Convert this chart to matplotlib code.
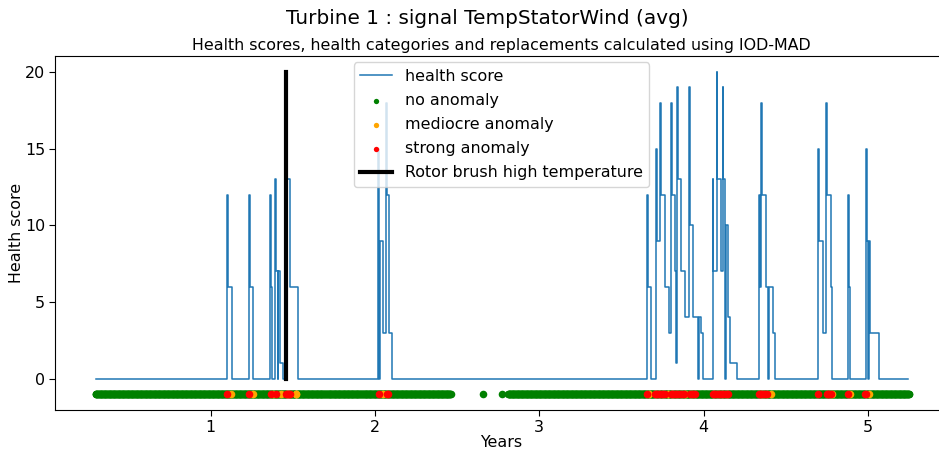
import numpy as np
import matplotlib
matplotlib.use("Agg")
import matplotlib.pyplot as plt

# Health score as a step series: (years, value held until the next change)
hs_years = [
    0.300, 1.101, 1.105, 1.128, 1.233, 1.239, 1.259, 1.363, 1.365, 1.371,
    1.391, 1.397, 1.407, 1.411, 1.421, 1.442, 1.466, 1.482, 1.533,
    2.017, 2.023, 2.027, 2.031, 2.046, 2.070, 2.074, 2.086, 2.106,
    3.655, 3.659, 3.679, 3.711, 3.717, 3.734, 3.740, 3.766, 3.792,
    3.802, 3.807, 3.823, 3.831, 3.837, 3.843, 3.861, 3.884, 3.908,
    3.914, 3.938, 3.965, 3.969, 3.983, 3.995,
    4.056, 4.060, 4.080, 4.084, 4.104, 4.115, 4.119, 4.129, 4.139,
    4.147, 4.163, 4.204,
    4.337, 4.344, 4.350, 4.356, 4.378, 4.392, 4.396, 4.421, 4.435,
    4.698, 4.702, 4.725, 4.743, 4.749, 4.773, 4.781,
    4.876, 4.883, 4.893, 4.986, 4.992, 5.002, 5.008, 5.012, 5.067, 5.241,
]
hs_values = [
    0, 12, 6, 0, 12, 6, 0, 12, 6, 0,
    13, 7, 0, 7, 1, 0, 13, 6, 0,
    15, 9, 0, 9, 3, 18, 12, 3, 0,
    12, 6, 0, 15, 9, 18, 12, 6, 3,
    18, 12, 7, 1, 19, 13, 7, 4, 19,
    10, 4, 0, 4, 3, 0,
    13, 7, 20, 13, 7, 19, 13, 0, 10,
    4, 1, 0,
    12, 6, 18, 12, 6, 0, 6, 3, 0,
    15, 9, 3, 18, 12, 6, 0,
    12, 6, 0, 15, 9, 0, 9, 3, 0, 0,
]

# Periods (in years) with daily health-category observations
coverage_start = [0.300, 2.660, 2.774, 2.810]
coverage_end = [2.460, 2.660, 2.774, 5.250]
missing_days = [1.700, 1.916]

# Days flagged by the IOD-MAD detector
strong_years = [
    1.101, 1.233, 1.365, 1.399, 1.458, 1.463, 1.469, 1.474, 1.480,
    2.023, 2.075, 2.080,
    3.655, 3.706, 3.711, 3.720, 3.728, 3.736, 3.745, 3.755, 3.763,
    3.800, 3.808, 3.816, 3.825, 3.835, 3.845, 3.855, 3.866, 3.877,
    3.918, 3.926, 3.934, 3.945,
    4.056, 4.064, 4.072, 4.080, 4.090, 4.100, 4.110, 4.120, 4.130, 4.140, 4.148,
    4.334, 4.342, 4.350, 4.358, 4.367, 4.376, 4.384,
    4.695, 4.748, 4.756, 4.765, 4.775, 4.876, 4.981, 4.987,
]
mediocre_years = [
    1.120, 1.257, 1.381, 1.425, 1.517, 1.522, 2.047,
    3.668, 3.781, 3.888, 4.413, 4.779, 4.894, 5.005,
]

event_year = 1.456
event_height = 20

title = "Turbine 1 : signal TempStatorWind (avg)"
subtitle = "Health scores, health categories and replacements calculated using IOD-MAD"

# Daily time grid over the covered periods
day = 1 / 365.25
days = np.concatenate([np.arange(s, e + day / 2, day) if e > s else np.array([s])
                       for s, e in zip(coverage_start, coverage_end)])
keep = np.ones(days.size, bool)
for m in missing_days:
    keep[np.argmin(np.abs(days - m))] = False
category = np.zeros(days.size, int)
for y in mediocre_years:
    category[np.argmin(np.abs(days - y))] = 1
for y in strong_years:
    category[np.argmin(np.abs(days - y))] = 2

W, H = 939, 449
fs = 11.4
fig = plt.figure(figsize=(W / 100, H / 100), dpi=100)
ax = fig.add_axes([55 / W, 39 / H, (948 - 55) / W, (410 - 56) / H])

ax.plot(hs_years, hs_values, drawstyle="steps-post", color="#1f77b4",
        lw=1.1, label="health score")
colors = ["green", "orange", "red"]
labels = ["no anomaly", "mediocre anomaly", "strong anomaly"]
for k in range(3):
    sel = keep & (category == k)
    ax.scatter(days[sel], np.full(sel.sum(), -1), s=30, color=colors[k],
               label=labels[k], linewidths=0)
ax.plot([event_year, event_year], [0, event_height], color="black", lw=3,
        label="Rotor brush high temperature")

ax.set_xlim(0.053, 5.487)
ax.set_ylim(-2.05, 21.05)
ax.set_xticks([1, 2, 3, 4, 5])
ax.set_yticks([0, 5, 10, 15, 20])
ax.tick_params(labelsize=fs, length=4, pad=3)
ax.set_xlabel("Years", fontsize=fs, labelpad=0)
ax.set_ylabel("Health score", fontsize=fs, labelpad=1)
ax.set_title(subtitle, fontsize=fs, pad=4)
fig.suptitle(title, fontsize=14.4, x=487.5 / W, y=1 - 18 / H, va="center")

leg = ax.legend(loc="upper center", fontsize=fs, markerscale=0.7,
                borderaxespad=0.4, labelspacing=0.58)

fig.savefig("out.png", dpi=100)
